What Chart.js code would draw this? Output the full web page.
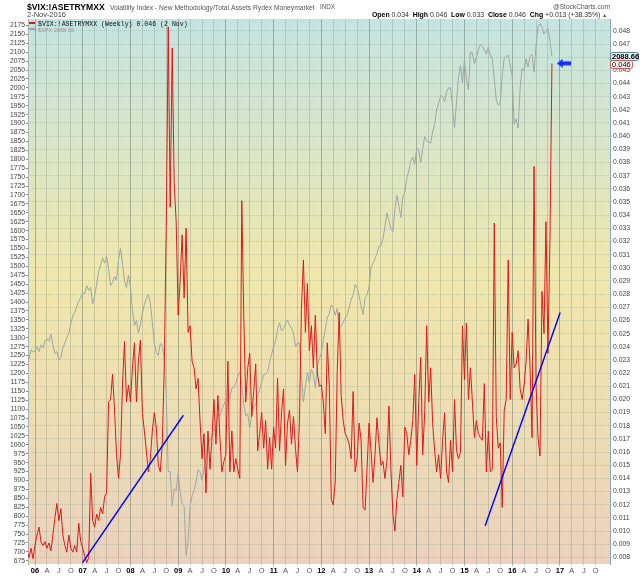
<!DOCTYPE html>
<html>
<head>
<meta charset="utf-8">
<title>$VIX:!ASETRYMXX</title>
<script src="https://cdn.jsdelivr.net/npm/chart.js@4.4.1/dist/chart.umd.min.js"></script>
<style>
  html, body { margin: 0; padding: 0; background: #fff; }
  #wrap { width: 640px; height: 576px; }
</style>
</head>
<body>
<div id="wrap"><canvas id="ratioChart" width="640" height="576"></canvas></div>
<script>
// ── Sampling of the series: two readings per month, from early Nov 2005
const START_T = 2005 + 10 / 12;
const STEP_T  = 1 / 24;

// ── $VIX:!ASETRYMXX (right axis)
const vixRatio = [
  .0084,.0080,.0087,.0079,.0089,.0097,.0103,.0092,.0089,.0092,
  .0087,.0091,.0085,.0097,.0110,.0121,.0108,.0117,.0097,.0089,
  .0084,.0097,.0087,.0084,.0089,.0084,.0106,.0092,.0087,.0081,
  .0076,.0080,.0144,.0108,.0103,.0113,.0108,.0118,.0113,.0126,
  .0129,.0198,.0200,.0219,.0192,.0158,.0140,.0158,.0211,.0244,
  .0198,.0211,.0198,.0224,.0243,.0198,.0229,.0245,.0190,.0176,
  .0161,.0145,.0155,.0176,.0190,.0179,.0150,.0145,.0166,.0224,
  .0330,.0483,.0346,.0467,.0364,.0335,.0264,.0290,.0325,.0277,
  .0330,.0251,.0256,.0229,.0224,.0208,.0216,.0184,.0155,.0174,
  .0129,.0176,.0147,.0171,.0200,.0166,.0203,.0171,.0145,.0153,
  .0158,.0229,.0145,.0176,.0145,.0155,.0147,.0140,.0351,.0264,
  .0198,.0224,.0235,.0187,.0206,.0227,.0161,.0174,.0190,.0163,
  .0184,.0147,.0171,.0147,.0179,.0163,.0216,.0161,.0190,.0208,
  .0150,.0182,.0192,.0166,.0187,.0163,.0145,.0184,.0269,.0306,
  .0251,.0288,.0237,.0256,.0224,.0264,.0220,.0210,.0211,.0198,
  .0174,.0243,.0211,.0124,.0120,.0137,.0221,.0266,.0203,.0184,
  .0174,.0171,.0166,.0155,.0206,.0145,.0155,.0182,.0169,.0118,
  .0116,.0147,.0182,.0161,.0137,.0158,.0186,.0166,.0150,.0153,
  .0140,.0153,.0195,.0147,.0113,.0100,.0124,.0137,.0150,.0126,
  .0179,.0174,.0158,.0169,.0184,.0219,.0150,.0198,.0232,.0158,
  .0190,.0256,.0198,.0224,.0182,.0161,.0145,.0158,.0140,.0169,
  .0190,.0145,.0137,.0169,.0145,.0200,.0161,.0155,.0160,.0256,
  .0215,.0258,.0200,.0224,.0198,.0171,.0184,.0174,.0171,.0169,
  .0212,.0145,.0176,.0145,.0147,.0334,.0187,.0163,.0167,.0118,
  .0192,.0200,.0306,.0200,.0251,.0224,.0227,.0237,.0208,.0200,
  .0211,.0229,.0261,.0224,.0171,.0377,.0211,.0171,.0157,.0282,
  .0250,.0335,.0235,.0322,.04553
];

// ── $SPX (left axis)
const spx = [
  1217,1241,1266,1261,1261,1275,1261,1280,1271,1290,
  1297,1290,1310,1280,1256,1261,1237,1246,1271,1285,
  1300,1312,1339,1361,1371,1387,1402,1412,1426,1423,
  1446,1433,1441,1395,1417,1451,1485,1504,1524,1509,
  1528,1494,1446,1455,1472,1460,1519,1550,1509,1460,
  1441,1475,1441,1378,1334,1349,1314,1336,1368,1394,
  1410,1421,1397,1344,1285,1258,1251,1283,1280,1241,
  1139,925,925,828,877,872,920,867,833,828,
  690,731,828,857,872,896,930,925,901,930,
  964,1008,1013,1023,1040,1050,1086,1081,1100,1112,
  1127,1124,1129,1159,1161,1173,1190,1205,1168,1115,
  1081,1086,1047,1081,1108,1110,1139,1154,1176,1196,
  1198,1205,1232,1254,1275,1290,1324,1342,1319,1326,
  1339,1349,1336,1326,1314,1275,1285,1285,1193,1120,
  1164,1203,1173,1212,1198,1159,1222,1241,1256,1293,
  1324,1355,1368,1392,1382,1363,1382,1329,1332,1344,
  1353,1365,1384,1407,1420,1449,1439,1417,1390,1365,
  1410,1421,1441,1497,1509,1521,1536,1556,1558,1577,
  1611,1650,1628,1606,1597,1660,1699,1670,1637,1694,
  1708,1747,1767,1796,1806,1786,1832,1825,1791,1830,
  1864,1851,1849,1845,1877,1898,1939,1957,1978,1976,
  1961,1988,2000,2000,1947,1888,1961,2029,2063,2015,
  2078,2025,1995,2100,2098,2068,2085,2107,2122,2117,
  2107,2095,2114,2093,2081,2025,1966,1952,1957,2034,
  2083,2088,2091,2064,2034,1898,1913,1888,2000,2054,
  2049,2081,2059,2088,2093,2044,2117,2171,2180,2172,
  2151,2159,2166,2132,2088.66
];

// ── Hand-drawn trend lines (time, ratio)
const trendA = [[2006.996, 0.0076], [2009.109, 0.0188]];
const trendB = [[2015.434, 0.0104], [2017.006, 0.0266]];

// ── Marker arrow next to the last reading
const arrowAt = [[2017.08, 0.04553]];

// ── Axis labels
const monthLetters = ['', 'A', 'J', 'O'];
const lastSpxText   = '2088.66';
const lastRatioText = '0.046';

// ── Colours
const COLORS = {
  ratio: '#e01818',
  spx:   '#9ea8a8',
  trend: '#0000ff',
  arrow: '#1030ff',
  grid:  'rgba(105,118,105,0.26)',
  gridYear: 'rgba(105,118,105,0.5)',
  tick:  '#444',
};
const FONT = 'Liberation Sans, Arial, sans-serif';
const MONO = 'Liberation Mono, Courier New, monospace';

const toPoints = arr => arr.map((v, i) => ({ x: START_T + i * STEP_T, y: v }));
const pairPoints = arr => arr.map(p => ({ x: p[0], y: p[1] }));

// arrow glyph used as point style
const arrowImg = document.createElement('canvas');
arrowImg.width = 14; arrowImg.height = 9;
(function () {
  const a = arrowImg.getContext('2d');
  a.fillStyle = COLORS.arrow;
  a.beginPath();
  a.moveTo(0, 4.5); a.lineTo(6, 0); a.lineTo(6, 2.5); a.lineTo(14, 2.5);
  a.lineTo(14, 6.5); a.lineTo(6, 6.5); a.lineTo(6, 9); a.closePath();
  a.fill();
})();

// draw runs of text scaled so the whole line fills `width`
function fitRuns(ctx, runs, x, y, width) {
  let total = 0;
  runs.forEach(r => { ctx.font = `${r.w || 'normal'} ${r.s}px ${r.f || FONT}`; total += ctx.measureText(r.t).width; });
  const k = width / total;
  let cx = x;
  runs.forEach(r => {
    ctx.font = `${r.w || 'normal'} ${r.s * k}px ${r.f || FONT}`;
    ctx.fillStyle = r.c || '#000';
    ctx.fillText(r.t, cx, y);
    cx += ctx.measureText(r.t).width;
  });
}

function valueBox(ctx, text, x, yMid, w, fill, stroke, bold) {
  ctx.save();
  ctx.fillStyle = fill;
  ctx.strokeStyle = stroke;
  ctx.lineWidth = 1;
  ctx.beginPath();
  ctx.roundRect(x + 0.5, Math.round(yMid - 4) + 0.5, w, 8, 2);
  ctx.fill(); ctx.stroke();
  ctx.fillStyle = '#000';
  ctx.font = `${bold ? 'bold ' : ''}7.5px ${FONT}`;
  ctx.textBaseline = 'middle';
  ctx.fillText(text, x + 2, yMid + 0.5);
  ctx.restore();
}

const decorPlugin = {
  id: 'decor',
  beforeDraw(chart) {
    const { ctx, chartArea: a } = chart;
    ctx.save();
    ctx.fillStyle = '#fff';
    ctx.fillRect(0, 0, chart.width, chart.height);
    const g = ctx.createLinearGradient(0, a.top, 0, a.bottom);
    g.addColorStop(0, '#c4e4e2');
    g.addColorStop(0.48, '#f0e7ab');
    g.addColorStop(1, '#ead2bd');
    ctx.fillStyle = g;
    ctx.fillRect(a.left, a.top, a.right - a.left, a.bottom - a.top);
    ctx.restore();
  },
  afterDraw(chart) {
    const { ctx } = chart;
    ctx.save();
    ctx.textBaseline = 'alphabetic';
    // header
    fitRuns(ctx, [{ t: '$VIX:!ASETRYMXX', w: 'bold', s: 10 }], 27, 10, 78);
    fitRuns(ctx, [{ t: 'Volatility Index - New Methodology/Total Assets Rydex Moneymarket', s: 7, c: '#555' }], 110, 10, 205);
    fitRuns(ctx, [{ t: 'INDX', s: 6, c: '#555' }], 320, 9, 15);
    fitRuns(ctx, [{ t: '2-Nov-2016', s: 7, c: '#444' }], 27, 17, 39);
    fitRuns(ctx, [{ t: '@StockCharts.com', s: 7, c: '#555' }], 553, 9, 57);
    fitRuns(ctx, [
      { t: 'Open', w: 'bold', s: 7 }, { t: ' 0.034  ', s: 7, c: '#333' },
      { t: 'High', w: 'bold', s: 7 }, { t: ' 0.046  ', s: 7, c: '#333' },
      { t: 'Low', w: 'bold', s: 7 }, { t: ' 0.033  ', s: 7, c: '#333' },
      { t: 'Close', w: 'bold', s: 7 }, { t: ' 0.046  ', s: 7, c: '#333' },
      { t: 'Chg', w: 'bold', s: 7 }, { t: ' +0.013 (+38.35%) ', s: 7, c: '#333' },
      { t: '▲', s: 5, c: '#1a6a1a' }
    ], 372, 17, 236);

    // in-plot legend
    ctx.fillStyle = COLORS.ratio;
    ctx.fillRect(29, 22, 6, 2);
    fitRuns(ctx, [{ t: '$VIX:!ASETRYMXX (Weekly) 0.046 (2 Nov)', s: 7, f: MONO, c: '#111' }], 38, 26, 150);
    ctx.fillStyle = COLORS.spx;
    ctx.fillRect(29, 28, 6, 2);
    fitRuns(ctx, [{ t: '$SPX ' + lastSpxText, s: 6, c: '#999' }], 38, 32, 36);

    // last value boxes on the right axis
    const x0 = chart.chartArea.right;
    valueBox(ctx, lastSpxText, x0, chart.scales.y.getPixelForValue(spx[spx.length - 1]), 28, '#dff2f4', '#5f8790', true);
    valueBox(ctx, lastRatioText, x0, chart.scales.y1.getPixelForValue(vixRatio[vixRatio.length - 1]) + 1, 22, '#fff6f6', '#e05252', false);
    ctx.restore();
  }
};

function quarterOf(v) { return Math.round((v - Math.floor(v + 1e-6)) * 4) % 4; }
// year ticks get bold labels and a darker grid line
const isYearTick = c => !!(c && c.tick) && quarterOf(c.tick.value) === 0;

new Chart(document.getElementById('ratioChart'), {
  type: 'line',
  data: {
    datasets: [
      { label: 'arrow', data: pairPoints(arrowAt), yAxisID: 'y1', showLine: false,
        pointStyle: arrowImg, pointRadius: 7, order: 0 },
      { label: 'trendA', data: pairPoints(trendA), yAxisID: 'y1', borderColor: COLORS.trend,
        borderWidth: 1.4, pointRadius: 0, order: 1 },
      { label: 'trendB', data: pairPoints(trendB), yAxisID: 'y1', borderColor: COLORS.trend,
        borderWidth: 1.4, pointRadius: 0, order: 1 },
      { label: '$VIX:!ASETRYMXX', data: toPoints(vixRatio), yAxisID: 'y1', borderColor: COLORS.ratio,
        borderWidth: 1, pointRadius: 0, tension: 0, order: 2 },
      { label: '$SPX', data: toPoints(spx), yAxisID: 'y', borderColor: COLORS.spx,
        borderWidth: 1, pointRadius: 0, tension: 0, order: 3 },
    ],
  },
  options: {
    responsive: false,
    animation: false,
    events: [],
    layout: { padding: { top: 19, left: 0, right: 0, bottom: 0 } },
    plugins: { legend: { display: false }, tooltip: { enabled: false } },
    scales: {
      x: {
        type: 'linear',
        min: 2005.853, max: 2018.05,
        afterFit: s => { s.height = 12; },
        border: { display: false },
        grid: {
          color: c => isYearTick(c) ? COLORS.gridYear : COLORS.grid,
          tickLength: 2,
        },
        ticks: {
          stepSize: 0.25,
          includeBounds: false,
          autoSkip: false,
          maxRotation: 0,
          padding: 0,
          color: c => isYearTick(c) ? '#000' : '#555',
          font: c => ({ family: FONT, size: 7.5, weight: isYearTick(c) ? 'bold' : 'normal' }),
          callback: v => {
            if (v >= 2018) return null;
            const q = quarterOf(v);
            return q === 0 ? String(Math.round(v)).slice(2) : monthLetters[q];
          },
        },
      },
      y: {
        position: 'left',
        // bounds chosen so the 25-point steps stay on round numbers
        min: 666, max: 2193,
        afterFit: s => { s.width = 28; },
        border: { display: true, color: '#a9b3b5' },
        grid: { drawOnChartArea: false, tickLength: 2, color: '#888' },
        ticks: {
          stepSize: 25, includeBounds: false, autoSkip: false, padding: 1,
          color: COLORS.tick, font: { family: FONT, size: 6.8 },
          callback: v => String(v),
        },
      },
      y1: {
        position: 'right',
        min: 0.0075, max: 0.0489,
        afterFit: s => { s.width = 30; },
        border: { display: true, color: '#8aa6b8', dash: [1, 1] },
        grid: { color: COLORS.grid, tickLength: 2 },
        ticks: {
          stepSize: 0.001, includeBounds: false, autoSkip: false, padding: 1,
          color: COLORS.tick, font: { family: FONT, size: 6.8 },
          callback: v => v.toFixed(3),
        },
      },
    },
  },
  plugins: [decorPlugin],
});
</script>
</body>
</html>
